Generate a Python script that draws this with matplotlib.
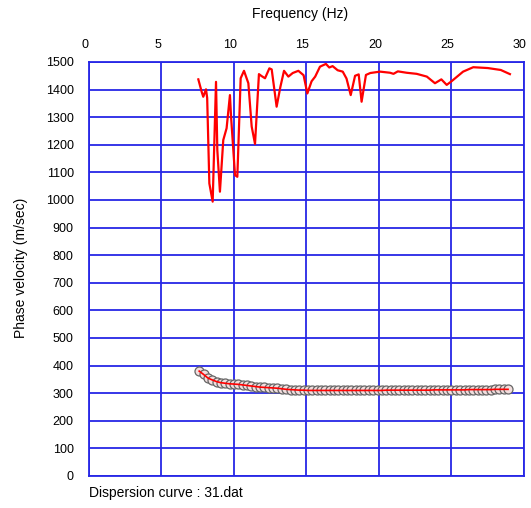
import matplotlib.pyplot as plt
from matplotlib.transforms import ScaledTranslation

plt.rcParams['font.family'] = ['Liberation Sans', 'DejaVu Sans']

# upper (noisy) phase velocity curve
freq_hi = [7.54, 7.77, 7.88, 8.07, 8.15, 8.3, 8.53, 8.76, 8.85, 9.03, 9.26, 9.49,
           9.72, 9.8, 10.07, 10.23, 10.46, 10.69, 10.99, 11.22, 11.45, 11.72, 11.9,
           12.14, 12.44, 12.6, 12.94, 13.2, 13.45, 13.75, 14.05, 14.44, 14.8, 15.06,
           15.35, 15.6, 15.93, 16.34, 16.57, 16.8, 17.15, 17.5, 17.76, 18.05, 18.35,
           18.6, 18.8, 19.1, 19.4, 20.07, 20.76, 21.0, 21.3, 21.9, 22.6, 23.3, 23.86,
           24.3, 24.67, 25.0, 25.8, 26.5, 27.5, 28.4, 29.03]
vel_hi = [1437, 1392, 1374, 1401, 1370, 1060, 994, 1428, 1181, 1030, 1217, 1260,
          1380, 1300, 1090, 1084, 1441, 1468, 1423, 1266, 1203, 1456, 1449,
          1441, 1477, 1473, 1338, 1410, 1468, 1447, 1460, 1468, 1452, 1386,
          1430, 1447, 1483, 1493, 1480, 1485, 1470, 1465, 1440, 1380, 1450,
          1455, 1356, 1453, 1460, 1465, 1461, 1457, 1466, 1461, 1457, 1447, 1423,
          1437, 1417, 1430, 1465, 1481, 1478, 1471, 1456]

# picked dispersion curve (circles)
freq_lo = [7.6, 7.9, 8.2, 8.5, 8.8, 9.1, 9.4, 9.7, 10.0, 10.3, 10.6, 10.9, 11.2,
           11.5, 11.8, 12.1, 12.4, 12.7, 13.0, 13.3, 13.6, 13.9, 14.2, 14.5, 14.8,
           15.1, 15.4, 15.7, 16.0, 16.3, 16.6, 16.9, 17.2, 17.5, 17.8, 18.1, 18.4,
           18.7, 19.0, 19.3, 19.6, 19.9, 20.2, 20.5, 20.8, 21.1, 21.4, 21.7, 22.0,
           22.3, 22.6, 22.9, 23.2, 23.5, 23.8, 24.1, 24.4, 24.7, 25.0, 25.3, 25.6,
           25.9, 26.2, 26.5, 26.8, 27.1, 27.4, 27.7, 28.0, 28.3, 28.6, 28.9]
vel_lo = [380, 368, 355, 348, 342, 338, 336, 334, 333, 332, 330, 328, 326,
          324, 322, 321, 320, 319, 318, 316, 314, 313, 312, 311, 311,
          310, 310, 310, 310, 310, 310, 310, 310, 310, 310, 310, 310,
          310, 310, 310, 310, 310, 310, 311, 311, 311, 311, 311, 311,
          311, 311, 311, 311, 311, 312, 312, 312, 312, 312, 312, 312,
          312, 313, 313, 313, 313, 313, 313, 314, 314, 314, 314]

fig = plt.figure(figsize=(5.31, 5.08), dpi=100)
ax = fig.add_axes([0.1676, 0.063, 0.8192, 0.815])

grid_col = '#2626e6'
ax.set_xlim(0, 30)
ax.set_ylim(0, 1500)
ax.set_xticks(range(0, 31, 5))
ax.set_yticks(range(0, 1501, 100))
ax.grid(True, color=grid_col, linewidth=1.3)
ax.set_axisbelow(True)
for s in ax.spines.values():
    s.set_color(grid_col)
    s.set_linewidth(1.3)

ax.xaxis.tick_top()
ax.tick_params(length=0, labelsize=9)
ax.tick_params(axis='x', pad=8)
ax.tick_params(axis='y', pad=11)
# x labels sit a little left of their gridlines in the original
shift = ScaledTranslation(-4 / 100, 0, fig.dpi_scale_trans)
for lab in ax.get_xticklabels():
    lab.set_transform(lab.get_transform() + shift)

ax.plot(freq_hi, vel_hi, color='#ff0000', linewidth=1.6)
ax.plot(freq_lo, vel_lo, 'o', markersize=6.5, markerfacecolor='#f2dede',
        markeredgecolor='#666666', markeredgewidth=0.9)
ax.plot(freq_lo, vel_lo, color='#ff0000', linewidth=1.2)

fig.text(0.565, 0.972, 'Frequency (Hz)', ha='center', va='center', fontsize=10)
fig.text(0.04, 0.472, 'Phase velocity (m/sec)', rotation=90, ha='center',
         va='center', fontsize=10)
fig.text(0.168, 0.029, 'Dispersion curve : 31.dat', ha='left', va='center',
         fontsize=10)

fig.savefig('out.png', dpi=100)
